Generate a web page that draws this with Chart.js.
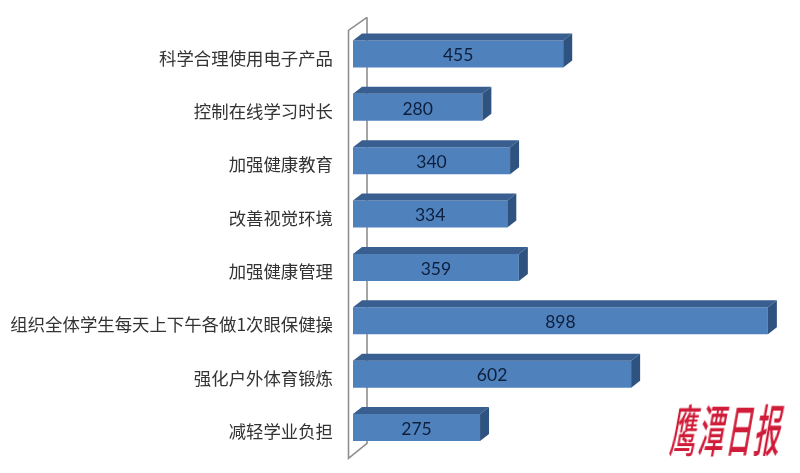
<!DOCTYPE html>
<html lang="zh">
<head>
<meta charset="utf-8">
<title>近视防控措施</title>
<script src="https://cdn.jsdelivr.net/npm/chart.js@4/dist/chart.umd.min.js"></script>
<style>
    html, body { margin: 0; padding: 0; background: #fff; }
    #wrap { position: relative; width: 800px; height: 473px; overflow: hidden; }
    #logo {
        position: absolute; left: 680px; top: 388px;
        font: 500 26px "Noto Sans CJK SC", sans-serif; color: #d01c38; letter-spacing: 2px;
        white-space: nowrap; transform: skewX(-10deg) scaleY(2.1); transform-origin: left top;
    }
</style>
</head>
<body>
<div id="wrap">
    <canvas id="measureChart" width="800" height="473"></canvas>
    <div id="logo">鹰潭日报</div>
</div>
<script>
// ======================================
// Data
// ======================================
const categories = [
    '科学合理使用电子产品',
    '控制在线学习时长',
    '加强健康教育',
    '改善视觉环境',
    '加强健康管理',
    '组织全体学生每天上下午各做1次眼保健操',
    '强化户外体育锻炼',
    '减轻学业负担'
];
const values = [455, 280, 340, 334, 359, 898, 602, 275];

// ======================================
// Fake 3D look (Excel style bars + wall)
// ======================================
const DEPTH_X = 9;
const DEPTH_Y = 7;

function fillPoly(ctx, color, pts) {
    ctx.fillStyle = color;
    ctx.beginPath();
    pts.forEach((p, i) => i ? ctx.lineTo(p[0], p[1]) : ctx.moveTo(p[0], p[1]));
    ctx.closePath();
    ctx.fill();
}

const wallPlugin = {
    id: 'wall',
    beforeDatasetsDraw(chart) {
        const { ctx, chartArea: a } = chart;
        ctx.save();
        ctx.strokeStyle = '#8f8f8f';
        ctx.lineWidth = 1.6;
        ctx.beginPath();
        ctx.moveTo(a.left + 14, a.top - 10);
        ctx.lineTo(a.left - 4.5, a.top + 3);
        ctx.lineTo(a.left - 4.5, a.bottom + 4);
        ctx.lineTo(a.left + 14, a.bottom - 11);
        ctx.lineTo(a.left + 14, a.top - 10);
        ctx.stroke();
        ctx.restore();
    }
};

const bar3dPlugin = {
    id: 'bar3d',
    afterDatasetsDraw(chart) {
        const ctx = chart.ctx;
        chart.getDatasetMeta(0).data.forEach((bar, i) => {
            const x0 = bar.base;
            const x1 = bar.x;
            const y0 = bar.y - bar.height / 2;
            const y1 = bar.y + bar.height / 2;
            // top face
            fillPoly(ctx, '#385f8f', [[x0, y0], [x0 + DEPTH_X, y0 - DEPTH_Y], [x1 + DEPTH_X, y0 - DEPTH_Y], [x1, y0]]);
            // end face
            fillPoly(ctx, '#2f5380', [[x1, y0], [x1 + DEPTH_X, y0 - DEPTH_Y], [x1 + DEPTH_X, y1 - DEPTH_Y], [x1, y1]]);
            // value label
            ctx.save();
            ctx.fillStyle = '#0d1f3c';
            ctx.font = '17.5px Lato, sans-serif';
            ctx.textAlign = 'center';
            ctx.textBaseline = 'middle';
            ctx.fillText(values[i], (x0 + x1) / 2, bar.y + 1.5);
            ctx.restore();
        });
    }
};

// ======================================
// Horizontal Bar Chart
// ======================================
new Chart(document.getElementById('measureChart'), {
    type: 'bar',
    data: {
        labels: categories,
        datasets: [{
            data: values,
            backgroundColor: '#4f81bd',
            borderWidth: 0,
            barPercentage: 0.506,
            categoryPercentage: 1
        }]
    },
    plugins: [wallPlugin, bar3dPlugin],
    options: {
        indexAxis: 'y',
        responsive: false,
        animation: false,
        layout: { padding: { top: 27.3, bottom: 18.7, left: 0, right: 31.2 } },
        plugins: {
            legend: { display: false },
            title: { display: false },
            tooltip: { enabled: false }
        },
        scales: {
            x: { display: false, min: 0, max: 900 },
            y: {
                afterFit(scale) {
                    scale.width = 353;
                    // tick padding otherwise eats into the chart height
                    scale.paddingTop = 0;
                    scale.paddingBottom = 0;
                },
                grid: { display: false, drawTicks: false },
                border: { display: false },
                ticks: {
                    autoSkip: false,
                    padding: 20,
                    labelOffset: 4,
                    color: '#333333',
                    font: { family: '"Noto Sans CJK SC", sans-serif', size: 17.4 }
                }
            }
        }
    }
});
</script>
</body>
</html>
